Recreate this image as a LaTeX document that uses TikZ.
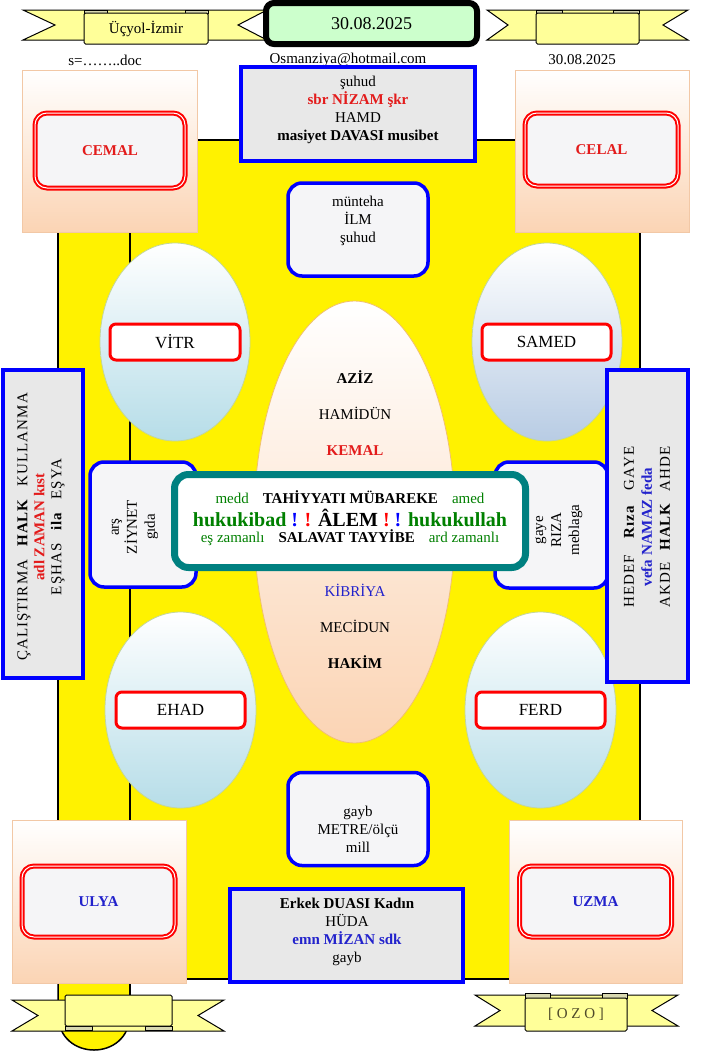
\documentclass[tikz,border=0pt]{standalone}
\usepackage{fontspec}
\setmainfont{Liberation Serif}
\usetikzlibrary{shapes.geometric}
\definecolor{ribbonyellow}{HTML}{FFFF99}
\definecolor{tabgray}{HTML}{D8D8B0}
\definecolor{datebg}{HTML}{CCFFCC}
\definecolor{peach}{HTML}{FBD4B4}
\definecolor{peachline}{HTML}{F2C8A6}
\definecolor{boxgray}{HTML}{E8E8E8}
\definecolor{boxwhite}{HTML}{F5F5F7}
\definecolor{paleblue}{HTML}{B6DDE8}
\definecolor{lavblue}{HTML}{B8CCE4}
\definecolor{eggline}{HTML}{C3D69B}
\definecolor{eggorange}{HTML}{F0C070}
\definecolor{darkgreen}{HTML}{008000}
\definecolor{textblue}{HTML}{2222CC}
\definecolor{textred}{HTML}{E31B1B}
\definecolor{ozo}{HTML}{4F4A2A}
\definecolor{tealline}{HTML}{008080}
\newcommand{\fsz}[2]{\fontsize{#1}{#2}\selectfont}
\newcommand{\nospace}{\addfontfeature{LetterSpace=0}}
\tikzset{txt/.style={font=\fsz{15}{18},align=center,inner sep=0pt}}
\tikzset{band/.style={fill=ribbonyellow,draw=black,line width=1pt}}
\tikzset{fold/.style={fill=tabgray,draw=black,line width=0.8pt}}
\tikzset{bandmid/.style={fill=ribbonyellow,draw=black,line width=1pt,inner sep=0pt,rounded corners=1.5pt,font=\fsz{15}{18}}}
\tikzset{datebox/.style={fill=datebg,draw=black,line width=6pt,rounded corners=8pt,inner sep=0pt,font=\fsz{18}{20}}}
\tikzset{cornerbox/.style={top color=white,bottom color=peach,draw=peachline,line width=0.8pt,inner sep=0pt}}
\tikzset{redframe/.style={fill=boxwhite,draw=red,double=white,double distance=1pt,line width=2pt,rounded corners=12pt,inner sep=0pt,font=\fsz{15}{18}\bfseries}}
\tikzset{graybox/.style={fill=boxgray,draw=blue,line width=3.5pt,inner sep=0pt}}
\tikzset{whitebox/.style={fill=boxwhite,draw=blue,line width=3.5pt,rounded corners=14pt,inner sep=0pt}}
\tikzset{egg/.style={ellipse,draw=eggline,line width=0.8pt,top color=white,inner sep=0pt}}
\tikzset{redlabel/.style={fill=white,draw=red,line width=3pt,rounded corners=6pt,inner sep=0pt,font=\fsz{17}{20}}}
\tikzset{tealbox/.style={fill=white,draw=tealline,line width=7pt,rounded corners=14pt,inner sep=0pt}}

\begin{document}
\begin{tikzpicture}[x=1pt,y=-1pt]
\useasboundingbox (0,0) rectangle (701,1052);

% scroll
\draw[fill=yellow,line width=1.5pt] (58,979) -- (58,1014) .. controls (58,1062) and (130,1062) .. (130,1014) -- (130,979);
\draw[fill=yellow,line width=1.5pt] (58,140) rectangle (640,979);
\draw[line width=1.5pt] (130,140) -- (130,1014);

% corners
\node[cornerbox,minimum width=175pt,minimum height=162pt] (cemalbg) at (109.5,151) {};
\node[redframe,minimum width=150pt,minimum height=75pt,text=textred] (cemal) at (110,150.5) {CEMAL};
\node[cornerbox,minimum width=174pt,minimum height=162pt] (celalbg) at (602,151) {};
\node[redframe,minimum width=153pt,minimum height=73pt,text=textred] (celal) at (601.5,149.5) {CELAL};
\node[cornerbox,minimum width=174pt,minimum height=163pt] (ulyabg) at (99,901.5) {};
\node[redframe,minimum width=153pt,minimum height=71pt,text=textblue] (ulya) at (98.5,901.5) {ULYA};
\node[cornerbox,minimum width=173pt,minimum height=163pt] (uzmabg) at (595.5,901.5) {};
\node[redframe,minimum width=152pt,minimum height=71pt,text=textblue] (uzma) at (595.5,901.5) {UZMA};

\node[txt] (docname) at (105,60) {s=……..doc};
\node[txt] (mail) at (348,60) {Osmanziya@hotmail.com};
\node[txt] (date2) at (582,60) {30.08.2025};

\node[graybox,minimum width=234pt,minimum height=94pt] (topbox) at (358,114) {};
\node[txt] (toptext) at (358,110) {şuhud\\\textcolor{textred}{\textbf{sbr NİZAM şkr}}\\HAMD\\\textbf{masiyet DAVASI musibet}};

% top ribbons
\draw[band] (23,10) -- (267,10) -- (238,25) -- (267,40) -- (23,40) -- (55,25) -- cycle;
\draw[fold] (84,10) rectangle (107,13);
\draw[fold] (185,10) rectangle (208,13);
\node[bandmid,minimum width=124pt,minimum height=31pt] (place) at (146,28.5) {Üçyol-İzmir};
\draw[band] (487,10) -- (688,10) -- (663,25) -- (688,40) -- (487,40) -- (508,25) -- cycle;
\draw[fold] (536,10) rectangle (562,13);
\draw[fold] (613,10) rectangle (639,13);
\node[bandmid,minimum width=103pt,minimum height=31pt] (blanktop) at (587.5,28.5) {};
\node[datebox,minimum width=211pt,minimum height=41pt] (date) at (371.5,23.5) {30.08.2025};

% ellipses
\node[egg,bottom color=paleblue,minimum width=150pt,minimum height=198pt] (vitregg) at (175,342) {};
\node[redlabel,minimum width=130pt,minimum height=36pt] (vitr) at (175,342) {VİTR};
\node[egg,bottom color=lavblue,minimum width=150pt,minimum height=198pt] (samedegg) at (547,342) {};
\node[redlabel,minimum width=129pt,minimum height=36pt] (samed) at (546.5,342) {SAMED};
\node[egg,bottom color=paleblue,minimum width=151pt,minimum height=196pt] (ehadegg) at (180.5,710) {};
\node[redlabel,minimum width=129pt,minimum height=36pt] (ehad) at (180.5,710) {EHAD};
\node[egg,bottom color=paleblue,minimum width=151pt,minimum height=196pt] (ferdegg) at (540.5,710) {};
\node[redlabel,minimum width=129pt,minimum height=36pt] (ferd) at (540.5,710) {FERD};

\node[egg,draw=eggorange,bottom color=peach,minimum width=201pt,minimum height=442pt] (coreegg) at (354.5,522) {};
\node[txt,font=\fsz{15}{36}] (upper) at (355,413) {\textbf{AZİZ}\\HAMİDÜN\\\textcolor{textred}{\textbf{KEMAL}}};
\node[txt,font=\fsz{15}{36}] (lower) at (355,626) {\textcolor{textblue}{KİBRİYA}\\MECİDUN\\\textbf{HAKİM}};

% side boxes
\node[whitebox,minimum width=106pt,minimum height=125pt] (leftmini) at (143,524.5) {};
\node[txt,rotate=90] (leftminitext) at (135,527) {arş\\ZİYNET\\gıda};
\node[whitebox,minimum width=113pt,minimum height=126pt] (rightmini) at (551.5,525) {};
\node[txt,rotate=90] (rightminitext) at (559,530) {gaye\\RIZA\\meblaga};

\node[graybox,minimum width=80pt,minimum height=308pt] (leftpanel) at (43,524) {};
\node[txt,rotate=90,font=\fsz{15}{17}\addfontfeature{LetterSpace=7}] (lefttext) at (41,527) {ÇALIŞTIRMA\hspace{12pt}\textbf{HALK}\hspace{12pt}KULLANMA\\\textcolor{textred}{\nospace\textbf{adl ZAMAN kıst}}\\EŞHAS\hspace{12pt}\textbf{ila}\hspace{12pt}EŞYA};
\node[graybox,minimum width=81pt,minimum height=312pt] (rightpanel) at (647.5,526) {};
\node[txt,rotate=90,font=\fsz{15}{18}\addfontfeature{LetterSpace=7}] (righttext) at (647,527) {HEDEF\hspace{15pt}\textbf{Rıza}\hspace{15pt}GAYE\\\textcolor{textblue}{\nospace\textbf{vefa NAMAZ feda}}\\AKDE\hspace{11pt}\textbf{HALK}\hspace{11pt}AHDE};

% center
\node[tealbox,minimum width=351pt,minimum height=93pt] (centerbox) at (350,521) {};
\node[txt] (line1) at (350,497) {\textcolor{darkgreen}{medd}\hspace{14pt}\textbf{TAHİYYATI MÜBAREKE}\hspace{14pt}\textcolor{darkgreen}{amed}};
\node[txt,font=\fsz{20}{24}\bfseries] (line2) at (350,518) {\textcolor{darkgreen}{hukukibad} \textcolor{blue}{!} \textcolor{red}{!} ÂLEM \textcolor{red}{!} \textcolor{blue}{!} \textcolor{darkgreen}{hukukullah}};
\node[txt] (line3) at (350,538) {\textcolor{darkgreen}{eş zamanlı}\hspace{14pt}\textbf{SALAVAT TAYYİBE}\hspace{14pt}\textcolor{darkgreen}{ard zamanlı}};

\node[whitebox,minimum width=140pt,minimum height=93pt] (topwhite) at (358,229.5) {};
\node[txt] (topwhitetext) at (358,221) {münteha\\İLM\\şuhud};
\node[whitebox,minimum width=140pt,minimum height=93pt] (bottomwhite) at (358,819) {};
\node[txt] (bottomwhitetext) at (358,829) {gayb\\METRE/ölçü\\mill};
\node[graybox,minimum width=233pt,minimum height=93pt] (bottombox) at (346.5,935.5) {};
\node[txt] (bottomtext) at (347,931.5) {\textbf{Erkek DUASI Kadın}\\HÜDA\\\textcolor{textblue}{\textbf{emn MİZAN sdk}}\\gayb};

% bottom ribbons
\draw[band] (12,1000) -- (224,1000) -- (198,1015.5) -- (224,1031) -- (12,1031) -- (38,1015.5) -- cycle;
\draw[fold] (65,1026) rectangle (92,1030);
\draw[fold] (145,1026) rectangle (172,1030);
\node[bandmid,minimum width=107pt,minimum height=31pt] (blankbottom) at (118.5,1010.5) {};
\draw[band] (475,995) -- (678,995) -- (652,1010.5) -- (678,1026) -- (475,1026) -- (500,1010.5) -- cycle;
\draw[fold] (525,993) rectangle (550,998);
\draw[fold] (602,993) rectangle (627,998);
\node[bandmid,minimum width=102pt,minimum height=33pt,text=ozo] (ozo) at (576,1014.5) {[ O Z O ]};
\end{tikzpicture}
\end{document}
